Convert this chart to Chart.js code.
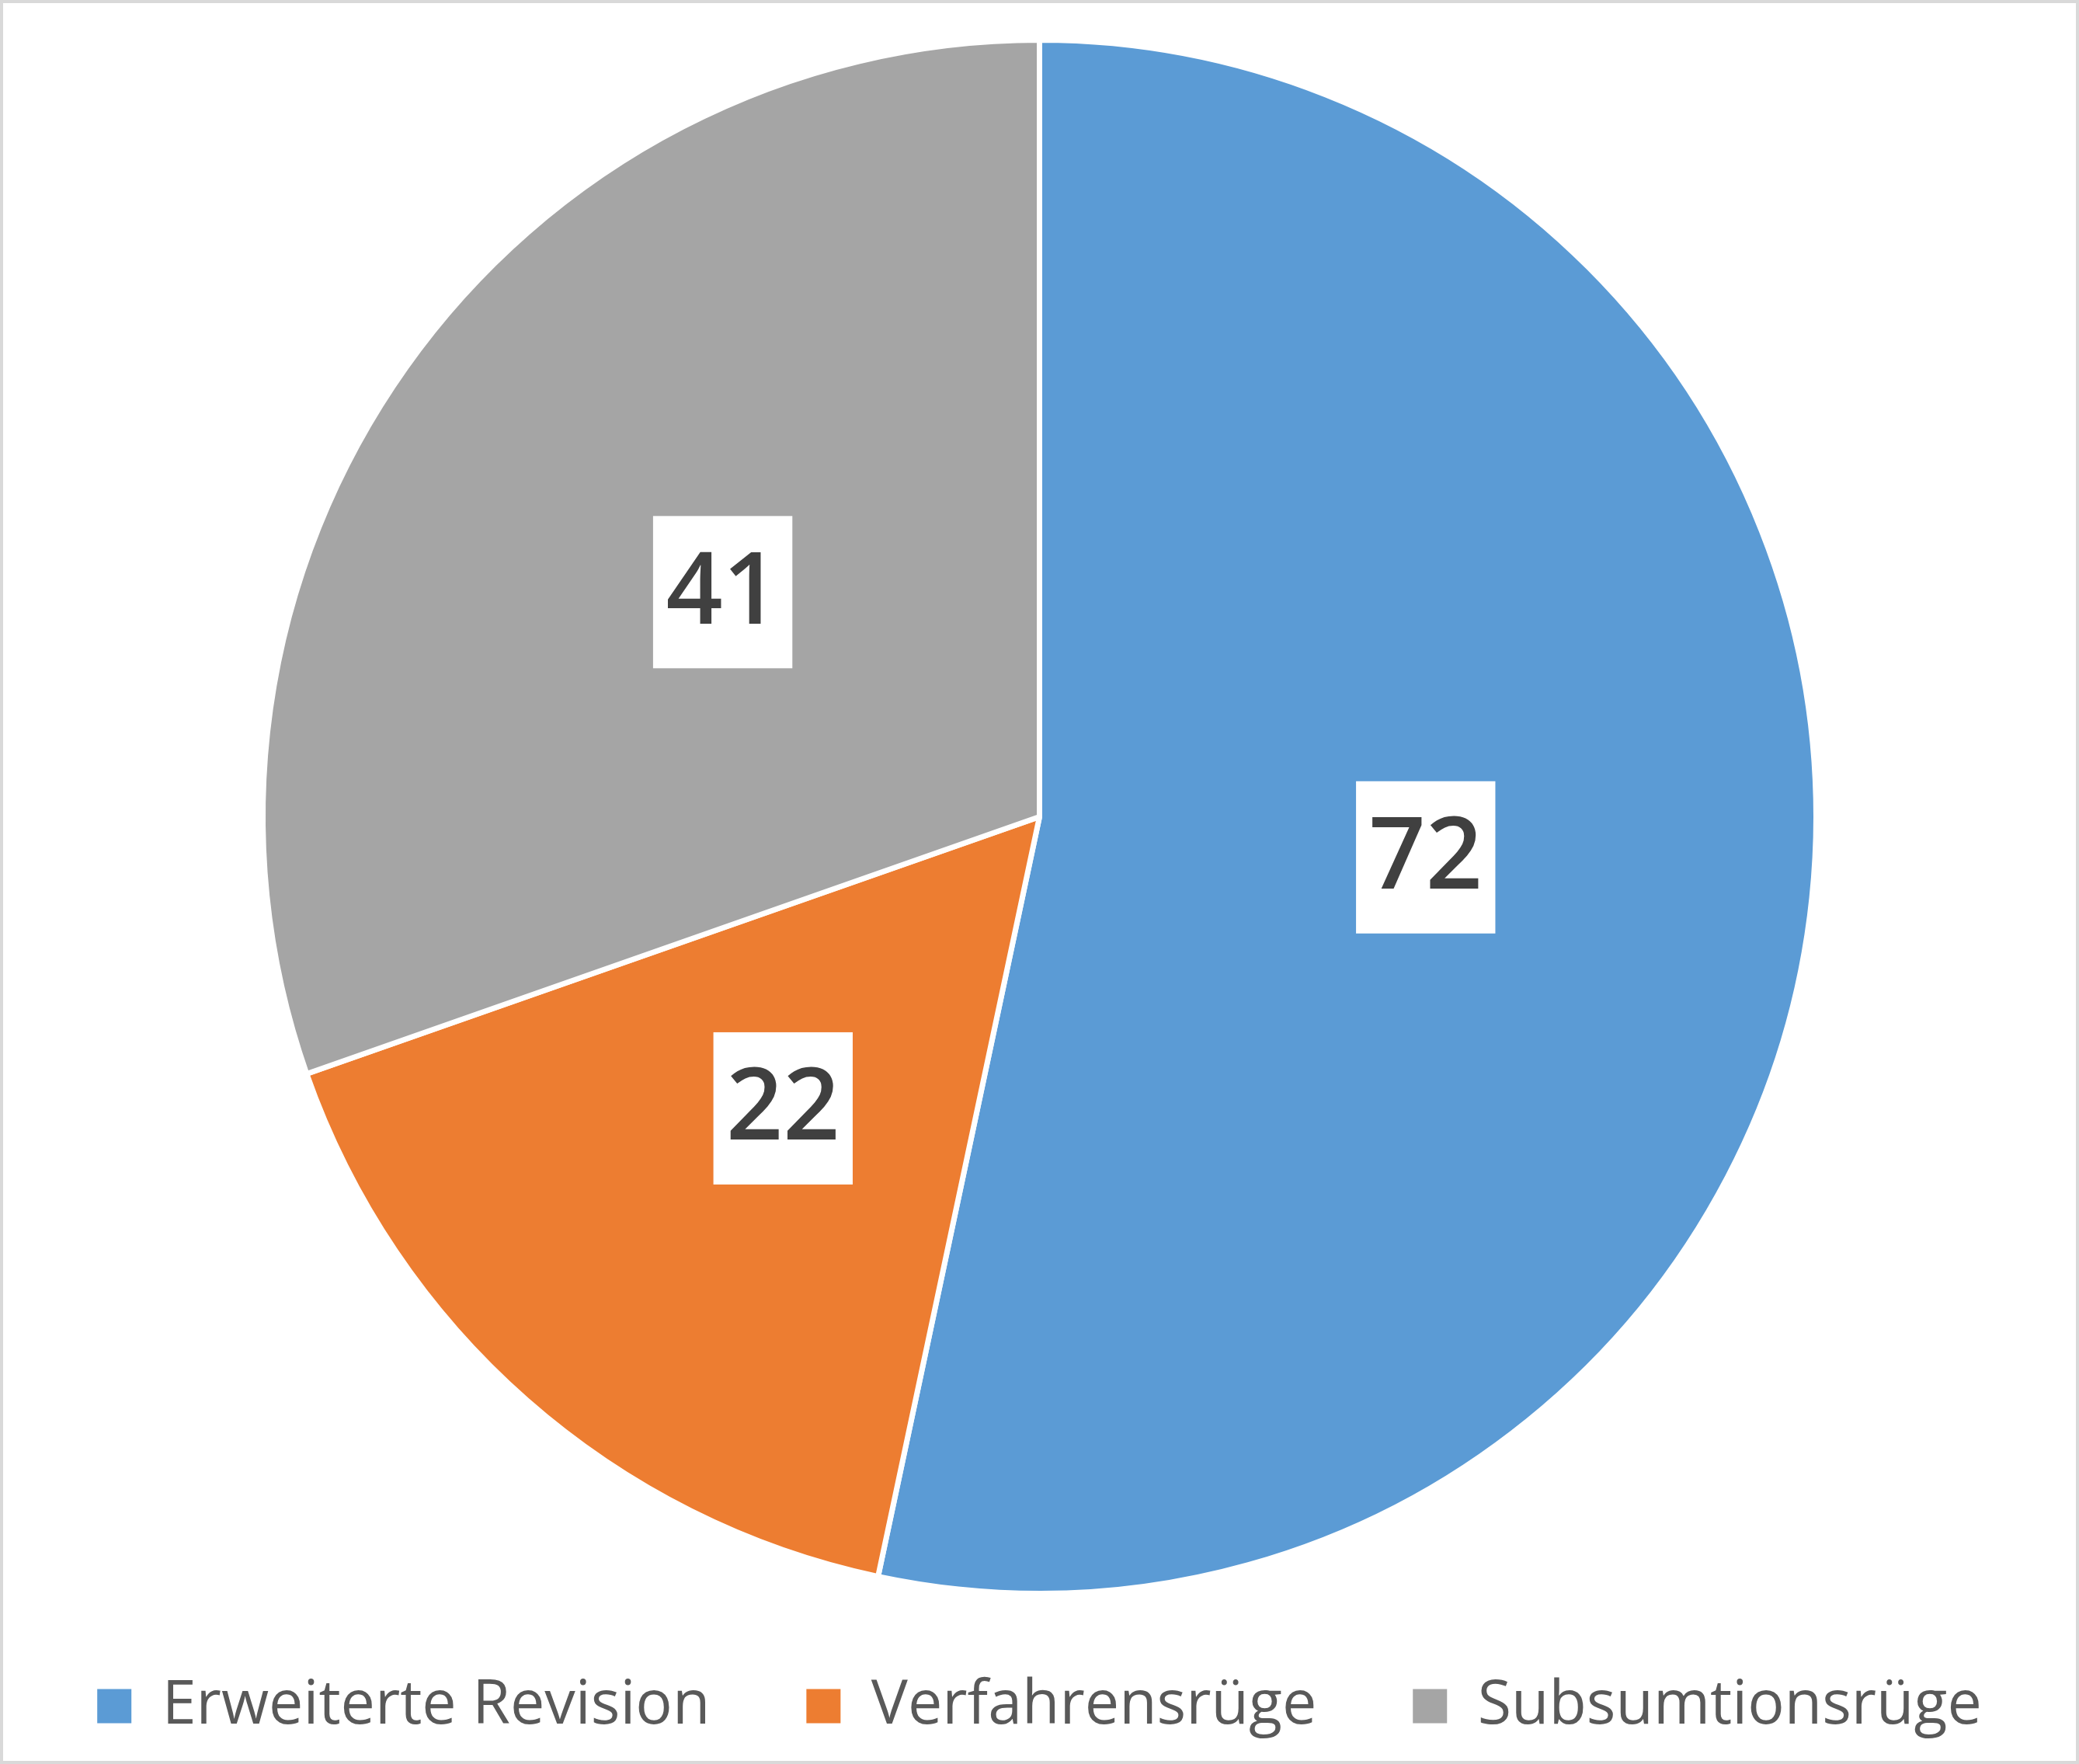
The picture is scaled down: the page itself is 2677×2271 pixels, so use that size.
<!DOCTYPE html>
<html>
<head>
<meta charset="utf-8">
<script src="https://cdn.jsdelivr.net/npm/chart.js@4.4.1/dist/chart.umd.min.js"></script>
<style>
  html, body { margin: 0; padding: 0; background: #ffffff; }
  canvas { display: block; }
</style>
</head>
<body>
<canvas id="c" width="2677" height="2271"></canvas>
<script>
const categories = ["Erweiterte Revision", "Verfahrensrüge", "Subsumtionsrüge"];
const values = [72, 22, 41];
const colors = ["#5B9BD5", "#ED7D31", "#A5A5A5"];

const FONT = "'Open Sans', 'Noto Sans', sans-serif";

const labelPlugin = {
  id: 'boxLabels',
  afterDatasetsDraw(chart) {
    const ctx = chart.ctx;
    const meta = chart.getDatasetMeta(0);
    ctx.save();
    ctx.font = "600 128px " + FONT;
    ctx.textAlign = 'center';
    ctx.textBaseline = 'middle';
    meta.data.forEach((arc, i) => {
      const pos = arc.tooltipPosition();
      const txt = String(chart.data.datasets[0].data[i]);
      const w = ctx.measureText(txt).width + 33;
      const h = 196;
      ctx.fillStyle = '#ffffff';
      ctx.fillRect(pos.x - w / 2, pos.y - h / 2, w, h);
      ctx.fillStyle = '#404040';
      ctx.fillText(txt, pos.x, pos.y + 4);
    });
    ctx.restore();
  }
};

const framePlugin = {
  id: 'frame',
  afterDraw(chart) {
    const ctx = chart.ctx;
    ctx.save();
    ctx.strokeStyle = '#d9d9d9';
    ctx.lineWidth = 4;
    ctx.strokeRect(2, 2, chart.width - 4, chart.height - 4);
    ctx.restore();
  }
};

const defaultGen = Chart.overrides.pie.plugins.legend.labels.generateLabels;

new Chart(document.getElementById('c'), {
  type: 'pie',
  data: {
    labels: categories,
    datasets: [{
      data: values,
      backgroundColor: colors,
      borderColor: '#ffffff',
      borderWidth: 7
    }]
  },
  options: {
    responsive: false,
    animation: false,
    layout: { padding: { top: 48, bottom: 25, left: 0, right: 0 } },
    plugins: {
      tooltip: { enabled: false },
      legend: {
        position: 'bottom',
        title: { display: true, text: '', font: { size: 10 }, padding: { top: -34, bottom: 0 } },
        labels: {
          boxWidth: 44,
          boxHeight: 44,
          padding: 124,
          color: '#595959',
          font: { family: FONT, size: 79 },
          generateLabels(chart) {
            return defaultGen(chart).map(l => Object.assign(l, { lineWidth: 0, strokeStyle: l.fillStyle }));
          }
        }
      }
    }
  },
  plugins: [labelPlugin, framePlugin]
});
</script>
</body>
</html>
